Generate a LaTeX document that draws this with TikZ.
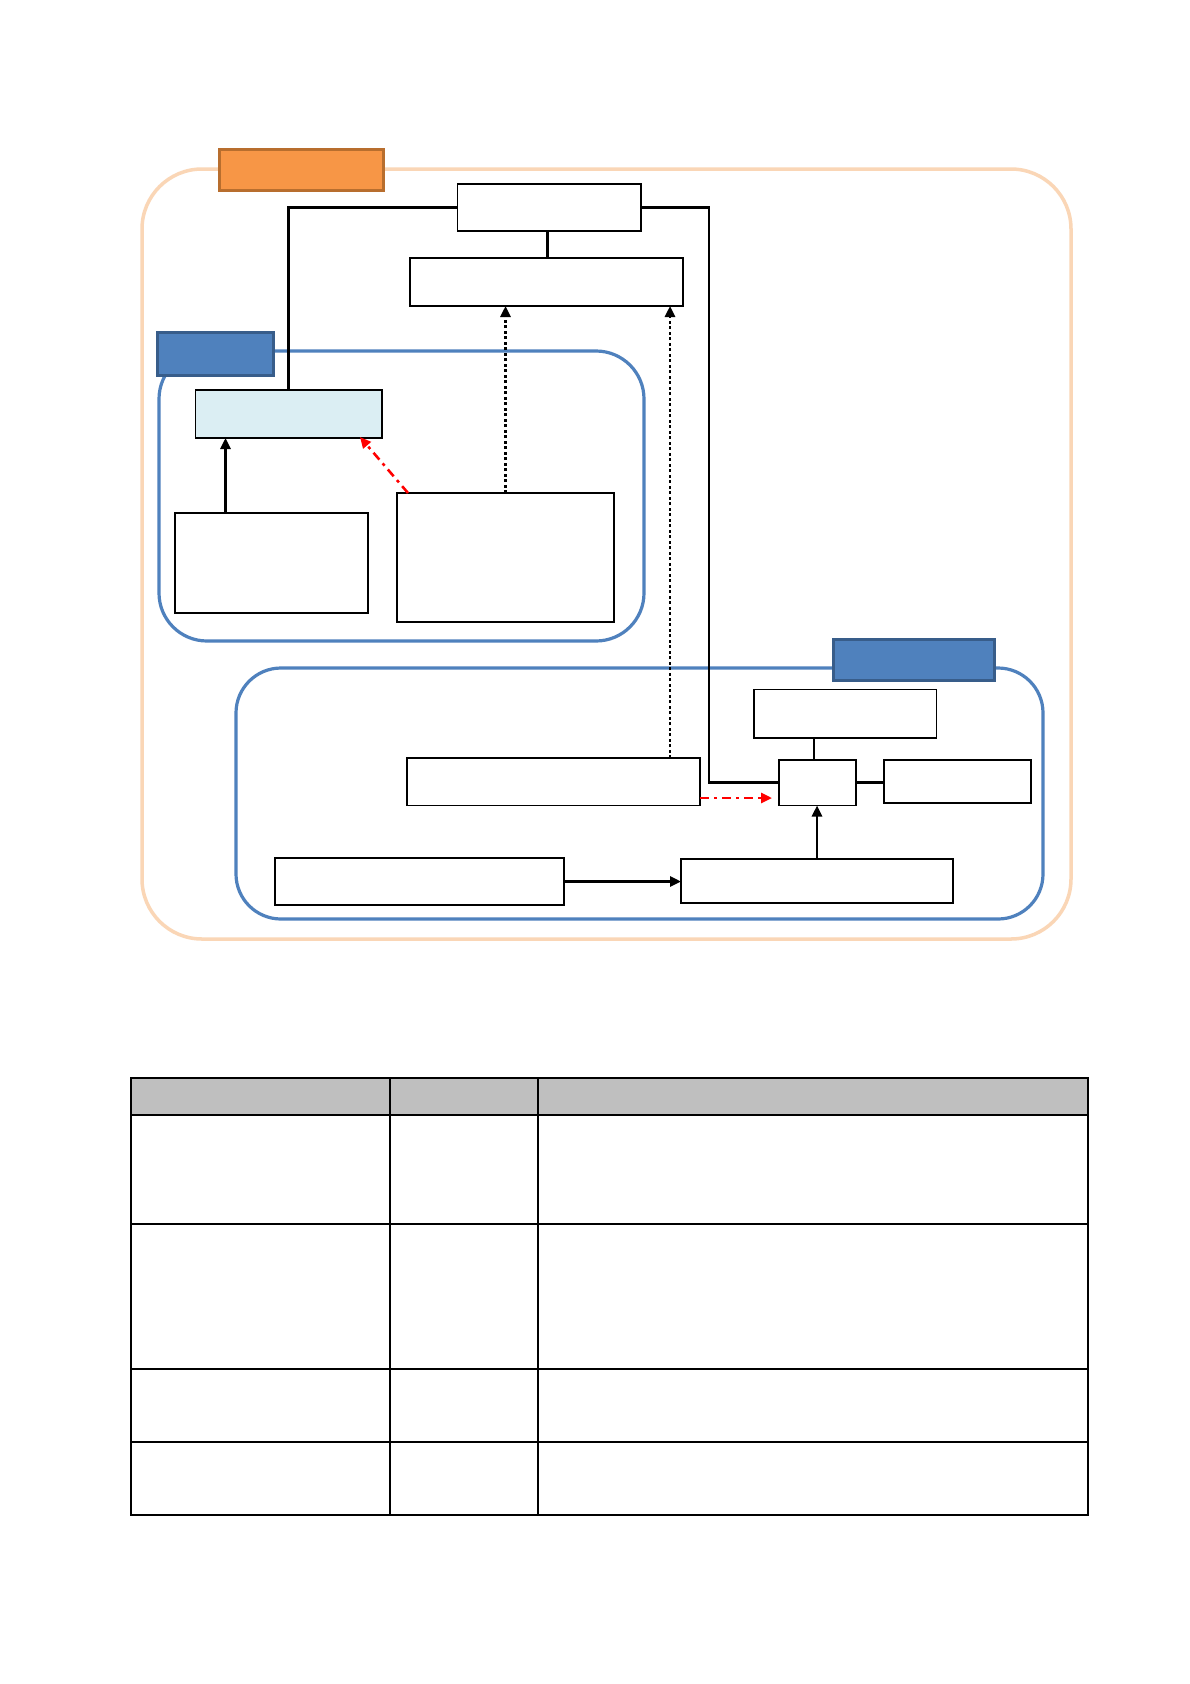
\documentclass[tikz,border=0pt]{standalone}
\usetikzlibrary{arrows.meta,calc}
\definecolor{peach}{HTML}{FAD6B6}
\definecolor{orfill}{HTML}{F79646}
\definecolor{ordraw}{HTML}{B86E2E}
\definecolor{bl}{HTML}{4F81BD}
\definecolor{bldraw}{HTML}{385D8A}
\definecolor{ltblue}{HTML}{DBEEF3}
\definecolor{hdr}{HTML}{BFBFBF}
\tikzset{
  box/.style={draw=black, line width=1.6pt, fill=white, inner sep=0pt, outer sep=0pt, anchor=north west},
  conn/.style={draw=black, line width=2.6pt},
  arr/.style={-{Triangle[length=11pt,width=10pt]}},
  dotline/.style={draw=black, line width=2.6pt, dash pattern=on 3pt off 2.5pt},
  reddash/.style={draw=red, line width=2.6pt, dash pattern=on 9pt off 5pt on 3pt off 5pt},
  frame/.style={inner sep=0pt, outer sep=0pt, anchor=north west, rounded corners=#1},
  tag/.style={inner sep=0pt, outer sep=0pt, anchor=north west, line width=3pt},
}
\begin{document}
\begin{tikzpicture}[x=1pt,y=-1pt]
\useasboundingbox[fill=white] (0,0) rectangle (1190,1684);
% group frames
\node[frame=60pt, draw=peach, line width=3.5pt, minimum width=929pt, minimum height=770pt] (outer) at (142,169) {};
\node[frame=48pt, draw=bl, line width=3.2pt, minimum width=485pt, minimum height=290pt] (grp1) at (159,351) {};
\node[frame=45pt, draw=bl, line width=3.2pt, minimum width=807pt, minimum height=251pt] (grp2) at (236,668) {};
% tags
\node[tag, draw=ordraw, fill=orfill, minimum width=164pt, minimum height=41pt] (tagO) at (219,149) {};
\node[tag, draw=bldraw, fill=bl, minimum width=116pt, minimum height=43pt] (tagB1) at (157,332) {};
\node[tag, draw=bldraw, fill=bl, minimum width=161.5pt, minimum height=41pt] (tagB2) at (833,639) {};
% boxes
\node[box, minimum width=183.5pt, minimum height=47pt] (A) at (457.5,184) {};
\node[box, minimum width=273pt, minimum height=48pt] (B) at (410,258) {};
\node[box, fill=ltblue, minimum width=186.5pt, minimum height=48pt] (C) at (195.5,390) {};
\node[box, minimum width=193pt, minimum height=100pt] (D) at (175,513) {};
\node[box, minimum width=217pt, minimum height=129pt] (E) at (397,493) {};
\node[box, minimum width=182.5pt, minimum height=48.5pt] (G) at (754,689.5) {};
\node[box, minimum width=77pt, minimum height=45.5pt] (H) at (779,760) {};
\node[box, minimum width=147pt, minimum height=43pt] (I) at (884,760) {};
\node[box, minimum width=293pt, minimum height=47.5pt] (F) at (407,758) {};
\node[box, minimum width=289pt, minimum height=47pt] (J) at (275,858) {};
\node[box, minimum width=272pt, minimum height=44pt] (K) at (681,859) {};
% connectors
\coordinate (rt) at (709,0);
\draw[conn] (A.west) -| (C.north);
\draw[conn] (A.east) -| (rt |- H.west) -- (H.west);
\draw[conn] ([xshift=-2pt]A.south) -- ([xshift=-2pt]A.south |- B.north);
\draw[conn,arr] ([xshift=50.5pt]D.north west) -- ([xshift=50.5pt]D.north west |- C.south);
\draw[dotline,arr] (E.north) -- (E.north |- B.south);
\draw[dotline,arr] ([xshift=263pt]F.north west) -- ([xshift=263pt]F.north west |- B.south);
\draw[reddash,arr] ([xshift=11pt]E.north west) -- ([xshift=-22pt,yshift=1pt]C.south east);
\draw[reddash,arr] ([yshift=7.5pt]F.south east) -- ([xshift=-7pt,yshift=7.5pt]H.south west);
\draw[conn] ([xshift=35pt]H.north west |- G.south) -- ([xshift=35pt]H.north west);
\draw[conn] (H.east) -- (H.east -| I.west);
\draw[conn,arr] (J.east) -- (J.east -| K.west);
\draw[conn,arr] (K.north) -- (K.north |- H.south);
% table
\fill[hdr] (131,1078) rectangle (1088,1115);
\draw[line width=1.5pt] (131,1078) rectangle (1088,1515);
\foreach \yy in {1115,1224,1369,1442} \draw[line width=1.5pt] (131,\yy) -- (1088,\yy);
\foreach \xx in {390,538} \draw[line width=1.5pt] (\xx,1078) -- (\xx,1515);
\end{tikzpicture}
\end{document}
